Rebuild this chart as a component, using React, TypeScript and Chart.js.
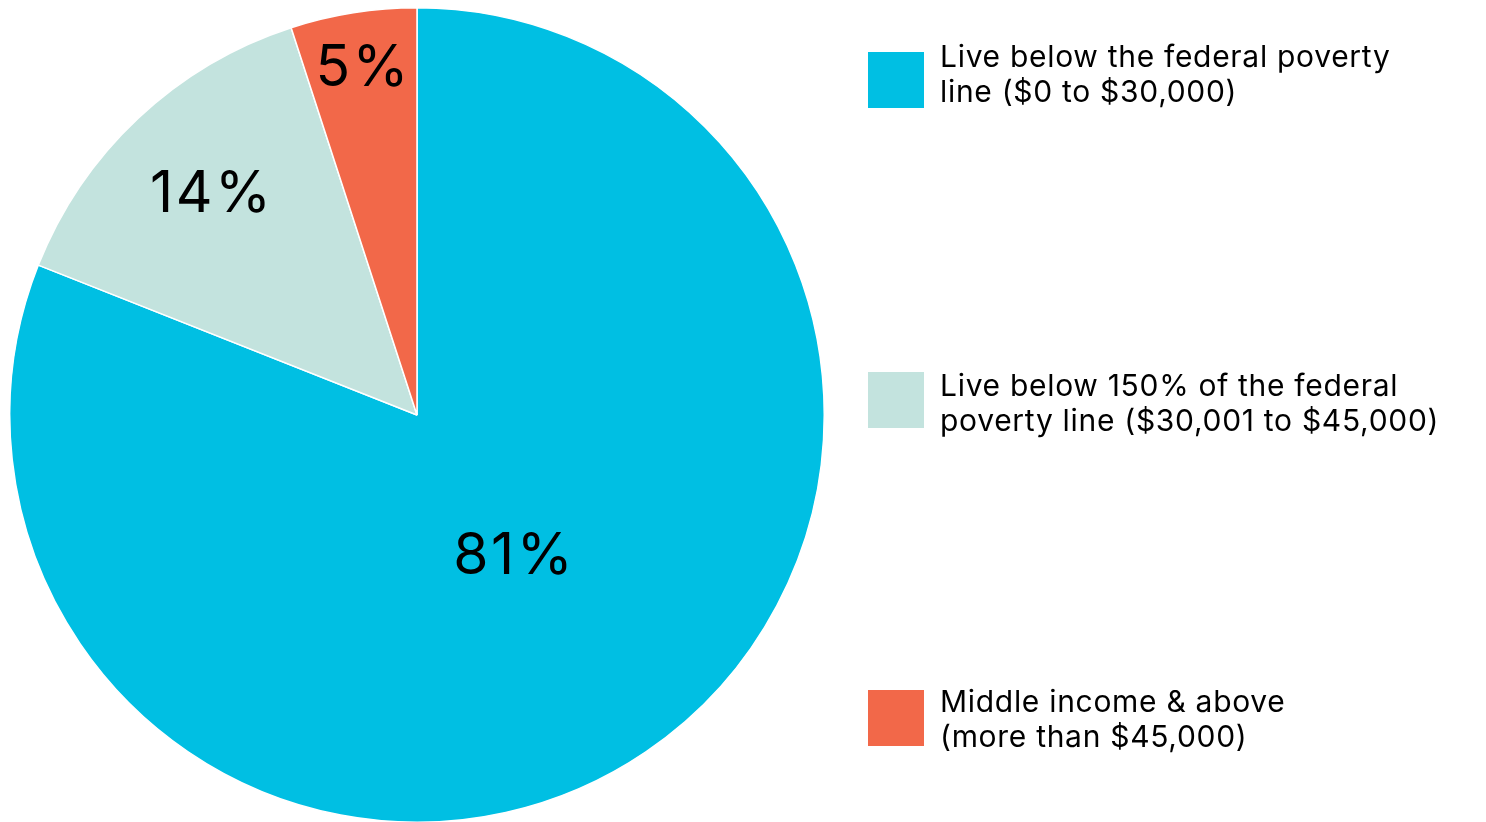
import React, { useEffect, useRef } from "react";
import { Chart, registerables } from "chart.js";

Chart.register(...registerables);

const categories: string[][] = [
  ["Live below the federal poverty", "line ($0 to $30,000)"],
  ["Live below 150% of the federal", "poverty line ($30,001 to $45,000)"],
  ["Middle income & above", "(more than $45,000)"],
];
const values: number[] = [81, 14, 5];
const valueLabels: string[] = ["81%", "14%", "5%"];
const colors: string[] = ["#00BFE3", "#C3E3DE", "#F26849"];
const labelRadiusFrac: number[] = [0.42, 0.74, 0.86];
const legendTops: number[] = [52, 372, 690];
const legendBaselines: number[] = [67, 396, 712];

const FONT = "Inter, 'Noto Sans', sans-serif";

export default function App() {
  const ref = useRef<HTMLCanvasElement | null>(null);
  useEffect(() => {
    document.body.style.margin = "0";
    document.body.style.overflow = "hidden";
    const canvas = ref.current!;
    const labelPlugin = {
      id: "pctLabels",
      afterDatasetsDraw(chart: any) {
        const ctx = chart.ctx;
        const meta = chart.getDatasetMeta(0);
        ctx.save();
        ctx.fillStyle = "#000";
        ctx.font = `400 57px ${FONT}`;
        (ctx as any).letterSpacing = "2.5px";
        ctx.textAlign = "center";
        ctx.textBaseline = "middle";
        meta.data.forEach((arc: any, i: number) => {
          const p = arc.getProps(["x", "y", "startAngle", "endAngle", "outerRadius"], true);
          const mid = (p.startAngle + p.endAngle) / 2;
          const r = p.outerRadius * labelRadiusFrac[i];
          ctx.fillText(valueLabels[i], p.x + Math.cos(mid) * r + 1, p.y + Math.sin(mid) * r);
        });
        ctx.restore();
      },
    };
    const legendPlugin = {
      id: "sideLegend",
      afterDraw(chart: any) {
        const ctx = chart.ctx;
        ctx.save();
        categories.forEach((lines, i) => {
          const top = legendTops[i];
          ctx.fillStyle = colors[i];
          ctx.fillRect(868, top, 56, 56);
          ctx.fillStyle = "#000";
          ctx.font = `400 30px ${FONT}`;
          (ctx as any).letterSpacing = "0.7px";
          ctx.textAlign = "left";
          ctx.textBaseline = "alphabetic";
          lines.forEach((t, j) => {
            ctx.fillText(t, 940, legendBaselines[i] + j * 35);
          });
        });
        ctx.restore();
      },
    };
    const chart = new Chart(canvas, {
      type: "pie",
      data: {
        labels: categories.map((c) => c.join(" ")),
        datasets: [
          {
            data: values,
            backgroundColor: colors,
            borderColor: "#ffffff",
            borderWidth: 1.5,
            hoverOffset: 0,
          },
        ],
      },
      options: {
        responsive: false,
        animation: false,
        devicePixelRatio: 1,
        layout: { padding: { left: 9, top: 7, right: 661, bottom: 7 } },
        plugins: {
          legend: { display: false },
          tooltip: { enabled: false },
        },
      },
      plugins: [labelPlugin, legendPlugin],
    });
    return () => chart.destroy();
  }, []);
  return (
    <div style={{ position: "relative", width: 1486, height: 822, overflow: "hidden" }}>
      <canvas ref={ref} width={1486} height={830} style={{ display: "block" }} />
    </div>
  );
}
